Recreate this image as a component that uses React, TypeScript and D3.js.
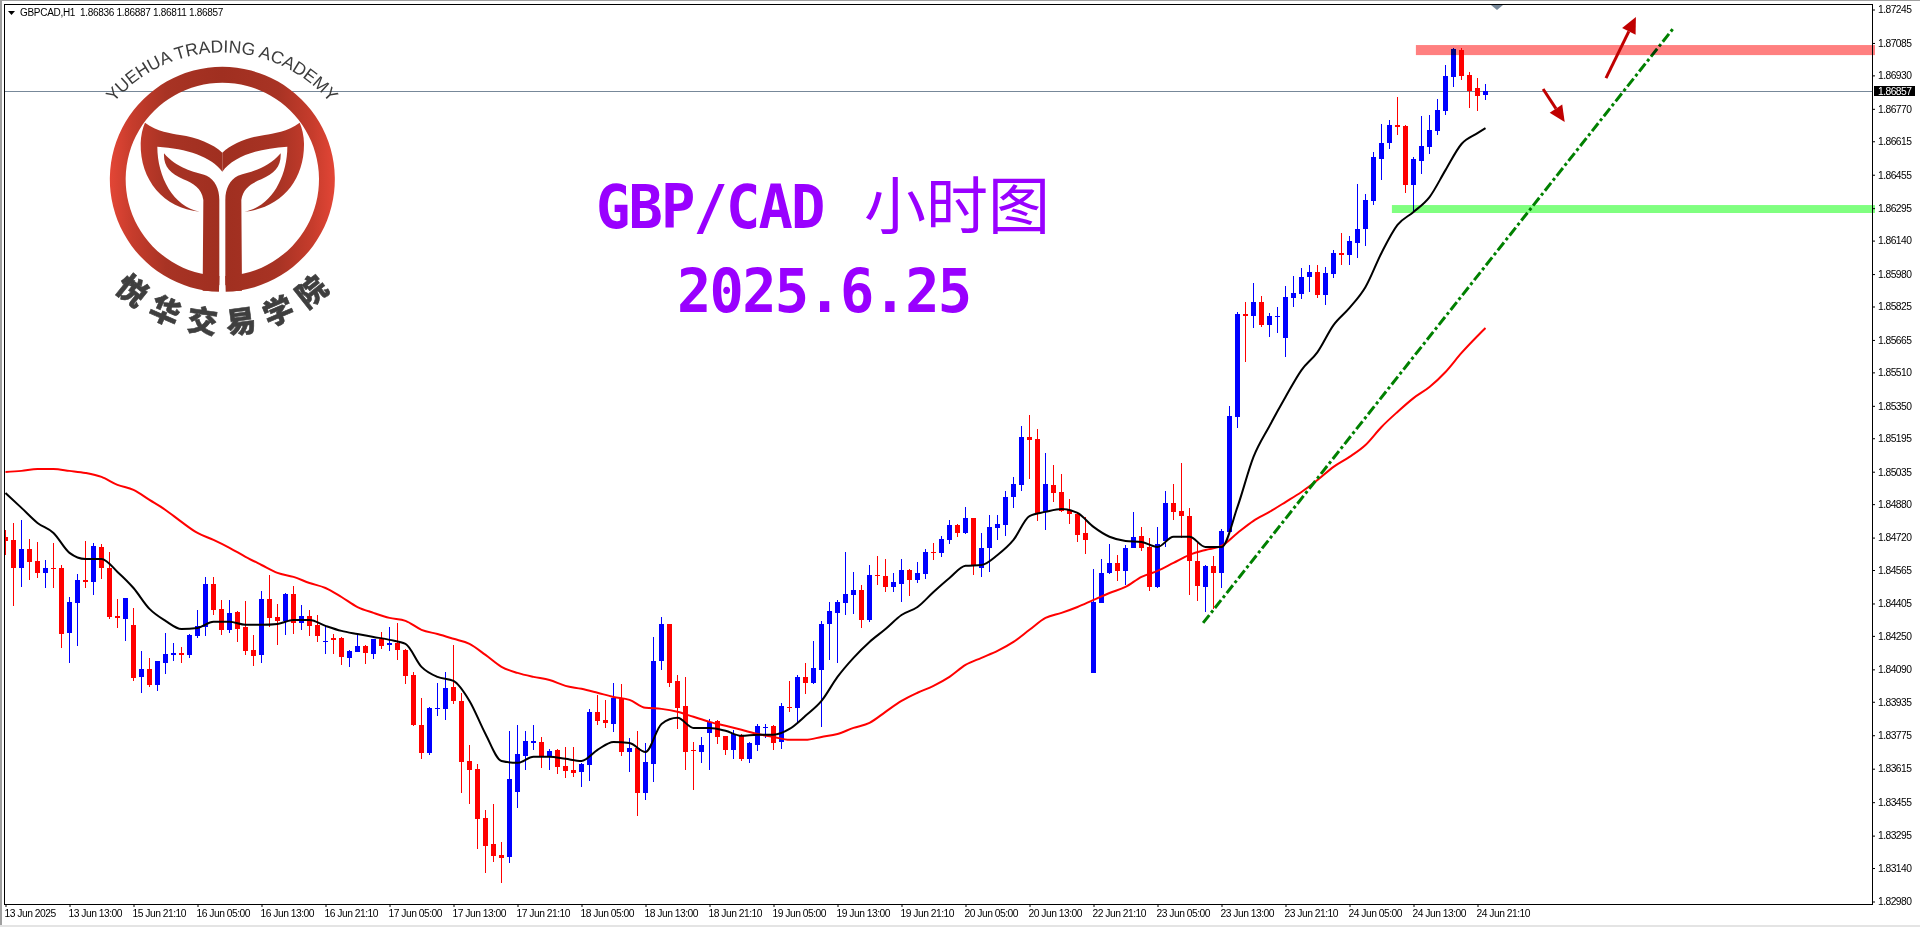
import * as React from 'react';
import { useEffect, useRef } from 'react';
import * as d3 from 'd3';

const highs = [
  1.84757,1.84790,1.84804,1.84714,1.84699,1.84613,1.84695,1.84589,1.84436,1.84546,
  1.84704,1.84695,1.84690,1.84651,1.84427,1.84431,1.84384,1.84178,1.84145,1.84130,
  1.84264,1.84217,1.84197,1.84259,1.84374,1.84532,1.84532,1.84422,1.84422,1.84369,
  1.84417,1.84254,1.84465,1.84541,1.84403,1.84455,1.84489,1.84398,1.84374,1.84350,
  1.84298,1.84259,1.84245,1.84183,1.84254,1.84207,1.84236,1.84269,1.84293,1.84312,
  1.84188,1.84078,1.83954,1.83911,1.84026,1.84078,1.84207,1.83978,1.83729,1.83638,
  1.83418,1.83447,1.83265,1.83796,1.83824,1.83796,1.83824,1.83767,1.83710,1.83710,
  1.83719,1.83719,1.83643,1.83901,1.83968,1.83944,1.84026,1.84021,1.83762,1.83796,
  1.83738,1.84245,1.84341,1.84307,1.84064,1.84054,1.83743,1.83767,1.83853,1.83848,
  1.83772,1.83801,1.83781,1.83743,1.83829,1.83829,1.83824,1.83930,1.84035,1.84064,
  1.84121,1.84226,1.84322,1.84412,1.84422,1.84651,1.84556,1.84494,1.84589,1.84632,
  1.84618,1.84551,1.84618,1.84570,1.84604,1.84666,1.84695,1.84728,1.84804,1.84785,
  1.84867,1.84814,1.84742,1.84828,1.84828,1.84943,1.85010,1.85254,1.85306,1.85239,
  1.85125,1.85067,1.85024,1.84905,1.84838,1.84819,1.84570,1.84618,1.84690,1.84637,
  1.84685,1.84843,1.84771,1.84719,1.84771,1.84943,1.84976,1.85077,1.84862,1.84695,
  1.84589,1.84632,1.84761,1.85349,1.85799,1.85846,1.85937,1.85875,1.85794,1.85823,
  1.85923,1.85971,1.86009,1.86023,1.86023,1.86014,1.86095,1.86176,1.86162,1.86410,
  1.86363,1.86563,1.86697,1.86716,1.86826,1.86692,1.86540,1.86736,1.86740,1.86817,
  1.86979,1.87061,1.87061,1.86946,1.86917,1.86887,
];
const opens = [
  1.84724,1.84709,1.84575,1.84666,1.84608,1.84551,1.84575,1.84575,1.84264,1.84408,
  1.84518,1.84508,1.84675,1.84575,1.84346,1.84331,1.84303,1.84054,1.84092,1.84016,
  1.84121,1.84159,1.84169,1.84159,1.84250,1.84293,1.84499,1.84379,1.84279,1.84365,
  1.84293,1.84183,1.84159,1.84427,1.84341,1.84322,1.84450,1.84312,1.84346,1.84303,
  1.84221,1.84240,1.84240,1.84145,1.84173,1.84202,1.84164,1.84236,1.84207,1.84217,
  1.84183,1.84064,1.83824,1.83690,1.83901,1.83901,1.84006,1.83939,1.83652,1.83614,
  1.83380,1.83256,1.83203,1.83194,1.83504,1.83676,1.83738,1.83743,1.83672,1.83705,
  1.83628,1.83609,1.83600,1.83633,1.83887,1.83848,1.83829,1.83954,1.83695,1.83714,
  1.83499,1.83638,1.84130,1.84307,1.84035,1.83916,1.83705,1.83695,1.83786,1.83844,
  1.83772,1.83705,1.83772,1.83662,1.83729,1.83810,1.83820,1.83743,1.83911,1.83906,
  1.84054,1.84026,1.84087,1.84307,1.84360,1.84408,1.84446,1.84470,1.84326,1.84541,
  1.84537,1.84484,1.84499,1.84565,1.84518,1.84546,1.84651,1.84647,1.84709,1.84780,
  1.84742,1.84814,1.84575,1.84671,1.84766,1.84780,1.84914,1.84972,1.85201,1.85192,
  1.84843,1.84972,1.84938,1.84852,1.84833,1.84742,1.84073,1.84408,1.84551,1.84599,
  1.84561,1.84671,1.84728,1.84675,1.84484,1.84704,1.84886,1.84847,1.84823,1.84608,
  1.84484,1.84585,1.84551,1.84747,1.85297,1.85789,1.85780,1.85846,1.85736,1.85775,
  1.85674,1.85865,1.85885,1.85966,1.85990,1.85880,1.85980,1.86081,1.86071,1.86128,
  1.86195,1.86329,1.86530,1.86606,1.86692,1.86688,1.86406,1.86520,1.86587,1.86664,
  1.86759,1.86922,1.87051,1.86931,1.86869,1.86836,
];
const closes = [
  1.84704,1.84575,1.84666,1.84604,1.84551,1.84575,1.84570,1.84259,1.84412,1.84518,
  1.84508,1.84680,1.84575,1.84341,1.84336,1.84431,1.84050,1.84092,1.84016,1.84130,
  1.84164,1.84169,1.84159,1.84254,1.84298,1.84499,1.84374,1.84279,1.84360,1.84283,
  1.84178,1.84154,1.84427,1.84336,1.84322,1.84450,1.84312,1.84346,1.84298,1.84250,
  1.84226,1.84231,1.84149,1.84178,1.84202,1.84169,1.84236,1.84202,1.84217,1.84183,
  1.84059,1.83824,1.83690,1.83906,1.83906,1.84001,1.83939,1.83648,1.83609,1.83375,
  1.83246,1.83198,1.83189,1.83566,1.83686,1.83748,1.83748,1.83672,1.83700,1.83624,
  1.83604,1.83595,1.83638,1.83887,1.83844,1.83834,1.83954,1.83695,1.83714,1.83499,
  1.83648,1.84130,1.84307,1.84026,1.83906,1.83695,1.83700,1.83729,1.83839,1.83767,
  1.83705,1.83781,1.83662,1.83738,1.83820,1.83815,1.83738,1.83916,1.83906,1.84054,
  1.84026,1.84097,1.84307,1.84369,1.84412,1.84450,1.84470,1.84326,1.84541,1.84537,
  1.84484,1.84508,1.84565,1.84518,1.84551,1.84651,1.84647,1.84714,1.84780,1.84742,
  1.84814,1.84585,1.84671,1.84771,1.84785,1.84914,1.84976,1.85201,1.85187,1.84838,
  1.84976,1.84933,1.84847,1.84833,1.84733,1.84709,1.84412,1.84551,1.84599,1.84561,
  1.84671,1.84724,1.84671,1.84484,1.84690,1.84886,1.84843,1.84823,1.84608,1.84489,
  1.84585,1.84551,1.84752,1.85301,1.85789,1.85780,1.85846,1.85736,1.85780,1.85780,
  1.85870,1.85889,1.85966,1.85990,1.85880,1.85985,1.86081,1.86071,1.86138,1.86195,
  1.86334,1.86540,1.86606,1.86692,1.86683,1.86406,1.86530,1.86592,1.86669,1.86764,
  1.86927,1.87056,1.86927,1.86855,1.86831,1.86857,
];
const lows = [
  1.84637,1.84393,1.84484,1.84518,1.84527,1.84479,1.84479,1.84193,1.84121,1.84202,
  1.84479,1.84445,1.84523,1.84331,1.84288,1.84226,1.84035,1.83978,1.84006,1.83987,
  1.84069,1.84130,1.84121,1.84145,1.84240,1.84250,1.84350,1.84254,1.84264,1.84221,
  1.84159,1.84107,1.84121,1.84293,1.84207,1.84254,1.84259,1.84279,1.84250,1.84221,
  1.84164,1.84164,1.84111,1.84102,1.84173,1.84116,1.84140,1.84188,1.84178,1.84135,
  1.84021,1.83820,1.83662,1.83681,1.83868,1.83848,1.83925,1.83499,1.83447,1.83232,
  1.83117,1.83170,1.83069,1.83165,1.83428,1.83609,1.83705,1.83619,1.83609,1.83590,
  1.83571,1.83576,1.83528,1.83557,1.83824,1.83810,1.83791,1.83676,1.83600,1.83390,
  1.83466,1.83552,1.84087,1.84006,1.83805,1.83609,1.83514,1.83643,1.83609,1.83734,
  1.83681,1.83662,1.83652,1.83643,1.83700,1.83762,1.83705,1.83710,1.83887,1.83834,
  1.83973,1.84021,1.83815,1.84135,1.84121,1.84350,1.84355,1.84288,1.84317,1.84494,
  1.84460,1.84460,1.84412,1.84441,1.84503,1.84523,1.84613,1.84628,1.84690,1.84724,
  1.84737,1.84541,1.84532,1.84556,1.84709,1.84728,1.84862,1.84943,1.85000,1.84800,
  1.84757,1.84890,1.84843,1.84785,1.84699,1.84642,1.84073,1.84408,1.84546,1.84513,
  1.84494,1.84671,1.84656,1.84465,1.84479,1.84675,1.84804,1.84719,1.84446,1.84417,
  1.84365,1.84379,1.84479,1.84747,1.85244,1.85560,1.85722,1.85727,1.85679,1.85698,
  1.85583,1.85823,1.85861,1.85894,1.85865,1.85832,1.85961,1.86023,1.86023,1.86057,
  1.86114,1.86310,1.86430,1.86578,1.86645,1.86368,1.86277,1.86458,1.86554,1.86645,
  1.86740,1.86874,1.86908,1.86774,1.86759,1.86811,
];

// moving averages, read every second bar (last bar added at the end)
const maBars = [...d3.range(0, 186, 2), 185];
const blackMa = [
  1.84933,1.84862,1.84790,1.84742,1.84647,1.84618,1.84618,1.84556,1.84479,1.84379,
  1.84322,1.84283,1.84288,1.84317,1.84317,1.84303,1.84303,1.84307,1.84326,1.84326,
  1.84298,1.84274,1.84259,1.84245,1.84231,1.84212,1.84102,1.84054,1.84035,1.83939,
  1.83781,1.83652,1.83643,1.83672,1.83672,1.83662,1.83652,1.83705,1.83743,1.83738,
  1.83695,1.83829,1.83858,1.83810,1.83810,1.83796,1.83772,1.83777,1.83777,1.83805,
  1.83868,1.83939,1.84054,1.84145,1.84221,1.84283,1.84350,1.84388,1.84460,1.84527,
  1.84585,1.84589,1.84637,1.84709,1.84823,1.84843,1.84857,1.84838,1.84771,1.84724,
  1.84704,1.84699,1.84675,1.84724,1.84724,1.84675,1.84675,1.84867,1.85106,1.85254,
  1.85392,1.85521,1.85607,1.85736,1.85818,1.85918,1.86081,1.86215,1.86277,1.86348,
  1.86477,1.86602,1.86654,1.86678,
];
const redMa = [
  1.85034,1.85039,1.85048,1.85048,1.85039,1.85029,1.85010,1.84972,1.84948,1.84900,
  1.84852,1.84795,1.84742,1.84709,1.84671,1.84628,1.84589,1.84551,1.84532,1.84503,
  1.84479,1.84436,1.84388,1.84360,1.84336,1.84322,1.84279,1.84259,1.84236,1.84212,
  1.84159,1.84102,1.84073,1.84054,1.84039,1.84011,1.83997,1.83978,1.83958,1.83944,
  1.83906,1.83901,1.83887,1.83863,1.83839,1.83820,1.83801,1.83781,1.83767,1.83753,
  1.83753,1.83767,1.83781,1.83810,1.83834,1.83887,1.83939,1.83978,1.84011,1.84054,
  1.84111,1.84145,1.84178,1.84221,1.84279,1.84336,1.84360,1.84388,1.84422,1.84455,
  1.84484,1.84532,1.84561,1.84599,1.84637,1.84661,1.84680,1.84742,1.84800,1.84843,
  1.84890,1.84938,1.84995,1.85058,1.85106,1.85163,1.85249,1.85321,1.85387,1.85440,
  1.85512,1.85603,1.85684,1.85722,
];

const priceTicks = [
  1.87245,1.87085,1.86930,1.86770,1.86615,1.86455,1.86295,1.86140,1.85980,1.85825,
  1.85665,1.85510,1.85350,1.85195,1.85035,1.84880,1.84720,1.84565,1.84405,1.84250,
  1.84090,1.83935,1.83775,1.83615,1.83455,1.83295,1.83140,1.82980,
];
const timeLabels = [
  '13 Jun 2025','13 Jun 13:00','15 Jun 21:10','16 Jun 05:00','16 Jun 13:00','16 Jun 21:10',
  '17 Jun 05:00','17 Jun 13:00','17 Jun 21:10','18 Jun 05:00','18 Jun 13:00','18 Jun 21:10',
  '19 Jun 05:00','19 Jun 13:00','19 Jun 21:10','20 Jun 05:00','20 Jun 13:00','22 Jun 21:10',
  '23 Jun 05:00','23 Jun 13:00','23 Jun 21:10','24 Jun 05:00','24 Jun 13:00','24 Jun 21:10',
];
const lastPrice = 1.86857;

// hand drawn objects on the chart: bar number + price
const trendBars = [149.7, 208.5];
const trendPrices = [1.84312, 1.87156];
const resistanceZone = { bar: 176.3, top: 1.87075, bottom: 1.87027 };
const supportZone = { bar: 173.3, top: 1.86310, bottom: 1.86272 };
const upArrow = { bars: [200.06, 203.8], prices: [1.86917, 1.87209] };
const downArrow = { bars: [192.2, 194.9], prices: [1.86865, 1.86707] };

const logoChars = ['悦', '华', '交', '易', '学', '院'];

const WIDTH = 1920;
const HEIGHT = 927;
const AXIS_X = 1872;
const AXIS_Y = 904;
const axisFont = '"Liberation Sans", Arial, sans-serif';

const logoStops = (
  <>
    <stop offset="0" stopColor="#e34636" />
    <stop offset="0.1" stopColor="#c63c2c" />
    <stop offset="0.25" stopColor="#a83324" />
    <stop offset="0.5" stopColor="#a02f20" />
    <stop offset="0.75" stopColor="#a83324" />
    <stop offset="0.9" stopColor="#c63c2c" />
    <stop offset="1" stopColor="#e34636" />
  </>
);

const Logo = () => {
  const ring = d3.arc()({ innerRadius: 290, outerRadius: 337.5, startAngle: -Math.PI + 0.03, endAngle: Math.PI - 0.03 });
  const charAngle = d3.scaleLinear().domain([0, 5]).range([-39, 38.5]);
  return (
    <g>
      <defs>
        <linearGradient id="logoRed" gradientUnits="userSpaceOnUse" x1={90} x2={765} y1={0} y2={0}>{logoStops}</linearGradient>
        {/* the ring path is centred on 0,0 so it needs its own span */}
        <linearGradient id="logoRing" gradientUnits="userSpaceOnUse" x1={-337.5} x2={337.5} y1={0} y2={0}>{logoStops}</linearGradient>
        <path id="logoTopArc" d="M 80.4 194 A 141.6 141.6 0 0 1 363.6 194" />
      </defs>
      <text fontFamily='"Liberation Sans", Arial, sans-serif' fontSize={17.5} fill="#3c3c3c">
        <textPath href="#logoTopArc" startOffset="50%" textAnchor="middle">YUEHUA TRADING ACADEMY</textPath>
      </text>
      <g transform="translate(80,20) scale(0.33333)" fill="url(#logoRed)">
        <path d={ring!} transform="translate(427,478)" fill="url(#logoRing)" />
        <g id="logoHalf">
          <path d="M195 308 C230 335 275 340 300 345 C350 352 400 372 427 398 L427 455 C395 410 320 385 232 380 C232 470 280 560 360 575 C250 565 180 480 182 370 Q183 335 195 308 Z" />
          <path d="M252 400 C290 445 340 455 380 467 C405 480 418 505 418 540 L418 795 L388 813 L368 812 L370 540 C365 505 340 490 310 478 C270 460 250 440 252 400 Z" />
        </g>
        <use href="#logoHalf" transform="translate(854,0) scale(-1,1)" />
      </g>
      {logoChars.map((c, i) => {
        const a = charAngle(i);
        const rad = (a * Math.PI) / 180;
        return (
          <text
            key={c}
            transform={`translate(${222.3 + 143 * Math.sin(rad)},${179.3 + 143 * Math.cos(rad)}) rotate(${-a})`}
            textAnchor="middle"
            dy="0.38em"
            fontFamily='"Noto Sans CJK SC"'
            fontWeight={900}
            fontSize={30}
            stroke="#3f3f3f"
            strokeWidth={0.6}
            fill="#3f3f3f"
          >
            {c}
          </text>
        );
      })}
    </g>
  );
};

const App = () => {
  const chartRef = useRef<SVGGElement>(null);

  useEffect(() => {
    const root = d3.select(chartRef.current);
    root.selectAll('*').remove();

    const x = d3.scaleLinear().domain([0, 185]).range([5.5, 1485.5]);
    const y = d3.scaleLinear().domain([priceTicks[0], priceTicks[priceTicks.length - 1]]).range([9.5, 901.5]);

    root.append('defs').append('clipPath').attr('id', 'plotClip')
      .append('rect').attr('x', 5).attr('y', 5).attr('width', AXIS_X - 5).attr('height', AXIS_Y - 5);

    const plot = root.append('g').attr('clip-path', 'url(#plotClip)');

    // last price line goes under everything
    plot.append('line')
      .attr('x1', 5).attr('x2', AXIS_X)
      .attr('y1', Math.round(y(lastPrice)) + 0.5).attr('y2', Math.round(y(lastPrice)) + 0.5)
      .attr('stroke', '#778899').attr('stroke-width', 1);

    const bars = d3.range(highs.length);
    const colour = (i: number) => (closes[i] >= opens[i] ? '#0000ff' : '#ff0000');

    plot.append('g').attr('shape-rendering', 'crispEdges').selectAll('rect')
      .data(bars).enter().append('rect')
      .attr('x', (i) => x(i) - 0.5)
      .attr('width', 1)
      .attr('y', (i) => Math.round(y(highs[i])))
      .attr('height', (i) => Math.round(y(lows[i])) - Math.round(y(highs[i])))
      .attr('fill', colour);

    plot.append('g').attr('shape-rendering', 'crispEdges').selectAll('rect')
      .data(bars).enter().append('rect')
      .attr('x', (i) => x(i) - 2.5)
      .attr('width', 5)
      .attr('y', (i) => Math.round(y(Math.max(opens[i], closes[i]))))
      .attr('height', (i) => Math.max(1, Math.round(y(Math.min(opens[i], closes[i]))) - Math.round(y(Math.max(opens[i], closes[i])))))
      .attr('fill', colour);

    const maLine = d3.line<number>().x((_, i) => x(maBars[i])).y((d) => y(d)).curve(d3.curveMonotoneX);
    plot.append('path').attr('d', maLine(redMa)).attr('fill', 'none').attr('stroke', '#ff0000').attr('stroke-width', 2);
    plot.append('path').attr('d', maLine(blackMa)).attr('fill', 'none').attr('stroke', '#000000').attr('stroke-width', 2);

    const zones = [
      { ...resistanceZone, fill: '#ff8080' },
      { ...supportZone, fill: '#80ff80' },
    ];
    root.selectAll('rect.zone').data(zones).enter().append('rect')
      .attr('class', 'zone')
      .attr('x', (d) => x(d.bar))
      .attr('width', (d) => 1875 - x(d.bar))
      .attr('y', (d) => y(d.top))
      .attr('height', (d) => y(d.bottom) - y(d.top))
      .attr('fill', (d) => d.fill)
      .style('mix-blend-mode', 'multiply');

    plot.append('line')
      .attr('x1', x(trendBars[0])).attr('y1', y(trendPrices[0]))
      .attr('x2', x(trendBars[1])).attr('y2', y(trendPrices[1]))
      .attr('stroke', '#008000').attr('stroke-width', 3)
      .attr('stroke-dasharray', '10 3 3 3');

    [upArrow, downArrow].forEach((a) => {
      const x0 = x(a.bars[0]);
      const y0 = y(a.prices[0]);
      const x1 = x(a.bars[1]);
      const y1 = y(a.prices[1]);
      const angle = Math.atan2(y1 - y0, x1 - x0);
      const headLen = 16;
      const bx = x1 - headLen * Math.cos(angle);
      const by = y1 - headLen * Math.sin(angle);
      const nx = -Math.sin(angle) * 7.5;
      const ny = Math.cos(angle) * 7.5;
      plot.append('line').attr('x1', x0).attr('y1', y0).attr('x2', bx).attr('y2', by)
        .attr('stroke', '#c00000').attr('stroke-width', 3);
      plot.append('polygon')
        .attr('points', `${x1},${y1} ${bx + nx},${by + ny} ${bx - nx},${by - ny}`)
        .attr('fill', '#c00000');
    });

    // axes
    const priceAxis = d3.axisRight(y).tickValues(priceTicks).tickSize(3).tickPadding(3)
      .tickFormat((d) => d3.format('.5f')(d as number));
    const pg = root.append('g').attr('transform', `translate(${AXIS_X},0)`).call(priceAxis);
    pg.select('.domain').remove();
    pg.selectAll('text').style('font-family', axisFont).style('font-size', '10.3px').style('letter-spacing', '-0.55px').attr('fill', '#000');

    const timeAxis = d3.axisBottom(x).tickValues(d3.range(0, 186, 8)).tickSize(3).tickPadding(3)
      .tickFormat((d) => timeLabels[(d as number) / 8]);
    const tg = root.append('g').attr('transform', `translate(0,${AXIS_Y})`).call(timeAxis);
    tg.select('.domain').remove();
    tg.selectAll('text').style('font-family', axisFont).style('font-size', '10.3px').style('text-anchor', 'start')
      .style('letter-spacing', '-0.5px').attr('dx', '-1.5').attr('fill', '#000');

    // current price flag
    const py = Math.round(y(lastPrice));
    root.append('rect').attr('x', 1874).attr('y', py - 5).attr('width', 41).attr('height', 10).attr('fill', '#000');
    root.append('text').attr('x', 1878).attr('y', py + 3.5).attr('fill', '#fff')
      .style('font-family', axisFont).style('font-size', '10.3px').style('letter-spacing', '-0.55px')
      .text(d3.format('.5f')(lastPrice));
  }, []);

  return (
    <svg
      width={WIDTH}
      height={HEIGHT}
      viewBox={`0 0 ${WIDTH} ${HEIGHT}`}
      style={{ position: 'fixed', left: 0, top: 0, background: '#fff' }}
    >
      {/* window edge */}
      <rect x={0} y={0} width={WIDTH} height={1} fill="#a0a0a0" />
      <rect x={0} y={0} width={2} height={HEIGHT} fill="#a0a0a0" />
      <rect x={0} y={925} width={WIDTH} height={2} fill="#e4e4e4" />

      <g ref={chartRef} />

      <path d={`M4.5 ${AXIS_Y + 0.5} V4.5 H${AXIS_X + 0.5} V${AXIS_Y + 0.5} Z`} fill="none" stroke="#000" strokeWidth={1} shapeRendering="crispEdges" />
      <polygon points="1491,5 1503,5 1497,10" fill="#778899" />

      {/* symbol line */}
      <polygon points="8,11 15,11 11.5,15" fill="#000" />
      <text x={20} y={16} fontFamily={axisFont} fontSize={10} letterSpacing={-0.3} fill="#000" xmlSpace="preserve">
        GBPCAD,H1  1.86836 1.86887 1.86811 1.86857
      </text>

      <Logo />

      <text transform="translate(596,228) scale(1,1.06)" fontFamily='"DejaVu Sans Mono", monospace' fontWeight={700} fontSize={57} letterSpacing={-1.8} fill="#9900ff">GBP/CAD</text>
      <text x={864} y={229} fontFamily='"Noto Sans CJK SC"' fontWeight={400} fontSize={62} fill="#9900ff">小时图</text>
      <text transform="translate(677,312) scale(1,1.06)" fontFamily='"DejaVu Sans Mono", monospace' fontWeight={700} fontSize={57} letterSpacing={-1.7} fill="#9900ff">2025.6.25</text>
    </svg>
  );
};

export default App;
